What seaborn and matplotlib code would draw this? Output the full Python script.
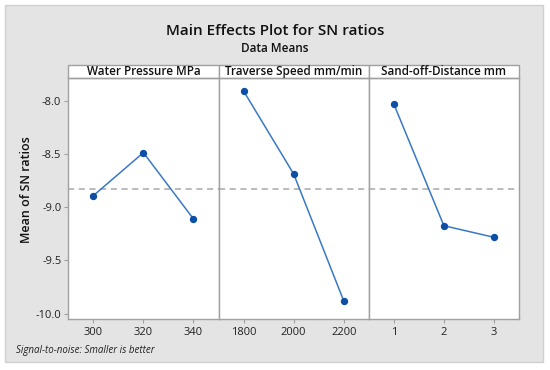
import pandas as pd
import matplotlib
matplotlib.use('Agg')
import matplotlib.pyplot as plt
from matplotlib.patches import Rectangle
import seaborn as sns

# Main effects data (mean of SN ratios per level)
factors = ['Water Pressure MPa', 'Traverse Speed mm/min', 'Sand-off-Distance mm']
levels_water = ['300', '320', '340']
levels_speed = ['1800', '2000', '2200']
levels_sod = ['1', '2', '3']
sn_water = [-8.892, -8.488, -9.111]
sn_speed = [-7.909, -8.688, -9.880]
sn_sod = [-8.031, -9.174, -9.283]
y_ticks = [-8.0, -8.5, -9.0, -9.5, -10.0]

sns.set_style('white')
plt.rcParams['font.family'] = ['Open Sans', 'DejaVu Sans']
plt.rcParams['axes.unicode_minus'] = False

df = pd.concat([
    pd.DataFrame({'factor': factors[0], 'level': levels_water, 'sn': sn_water}),
    pd.DataFrame({'factor': factors[1], 'level': levels_speed, 'sn': sn_speed}),
    pd.DataFrame({'factor': factors[2], 'level': levels_sod, 'sn': sn_sod}),
])
grand_mean = df['sn'].mean()

fig = plt.figure(figsize=(5.5, 3.7), dpi=100)
fig.patch.set_facecolor('white')
# grey Minitab frame
fig.patches.append(Rectangle((5 / 550, 1 - 362 / 370), 538 / 550, 357 / 370,
                             transform=fig.transFigure, facecolor='#e4e4e4',
                             edgecolor='#d0d0d0', linewidth=1.0, zorder=-1))

left, right, bottom, top = 68.3 / 550, 519 / 550, 1 - 319 / 370, 1 - 78.3 / 370
w = (right - left) / 3
axes = []
for i, (fac, lv) in enumerate(zip(factors, [levels_water, levels_speed, levels_sod])):
    ax = fig.add_axes([left + i * w, bottom, w, top - bottom],
                      sharey=axes[0] if axes else None)
    axes.append(ax)
    sub = df[df['factor'] == fac]
    ax.axhline(grand_mean, color='#a8a8a8', linestyle=(0, (4, 3)), linewidth=1.1, zorder=1)
    sns.lineplot(data=sub, x='level', y='sn', ax=ax, color='#3a78c6', linewidth=1.1,
                 sort=False, zorder=2)
    sns.scatterplot(data=sub, x='level', y='sn', ax=ax, color='#0d4ea6', s=28,
                    edgecolor='#0d4ea6', linewidth=0, zorder=3)
    ax.set_xlim(-0.5, 2.5)
    ax.set_ylim(-10.05, -7.79)
    ax.set_facecolor('white')
    ax.set_xlabel('')
    ax.set_ylabel('')
    for s in ax.spines.values():
        s.set_color('#a0a0a0')
        s.set_linewidth(1.0)
    ax.tick_params(axis='x', length=3, color='#a0a0a0', labelsize=8, pad=3,
                   labelcolor='#222222', bottom=True)
    ax.tick_params(axis='y', length=3, color='#a0a0a0', labelsize=8, pad=2,
                   labelcolor='#222222', left=(i == 0))
    if i > 0:
        ax.tick_params(axis='y', labelleft=False)
    # strip header
    strip_h = 13 / 240.7
    ax.add_patch(Rectangle((0, 1), 1, strip_h, transform=ax.transAxes, clip_on=False,
                           facecolor='white', edgecolor='#a0a0a0', linewidth=1.0))
    ax.text(0.5, 1 + strip_h / 2, fac, transform=ax.transAxes, ha='center', va='center',
            fontsize=8.4, fontweight='semibold', color='#111111')

axes[0].set_yticks(y_ticks)
axes[0].set_yticklabels([f'{t:.1f}' for t in y_ticks])

fig.text(27 / 550, 1 - 190 / 370, 'Mean of SN ratios', rotation=90, ha='center',
         va='center', fontsize=9, fontweight='semibold', color='#111111')
fig.text(0.5, 1 - 31 / 370, 'Main Effects Plot for SN ratios', ha='center', va='center',
         fontsize=11, fontweight='semibold', color='#111111')
fig.text(0.5, 1 - 49 / 370, 'Data Means', ha='center', va='center',
         fontsize=8.5, fontweight='semibold', color='#111111')
fig.text(16 / 550, 1 - 351 / 370, 'Signal-to-noise: Smaller is better', ha='left',
         va='center', fontsize=7, style='italic', color='#222222')

fig.savefig('out.png', dpi=100)
